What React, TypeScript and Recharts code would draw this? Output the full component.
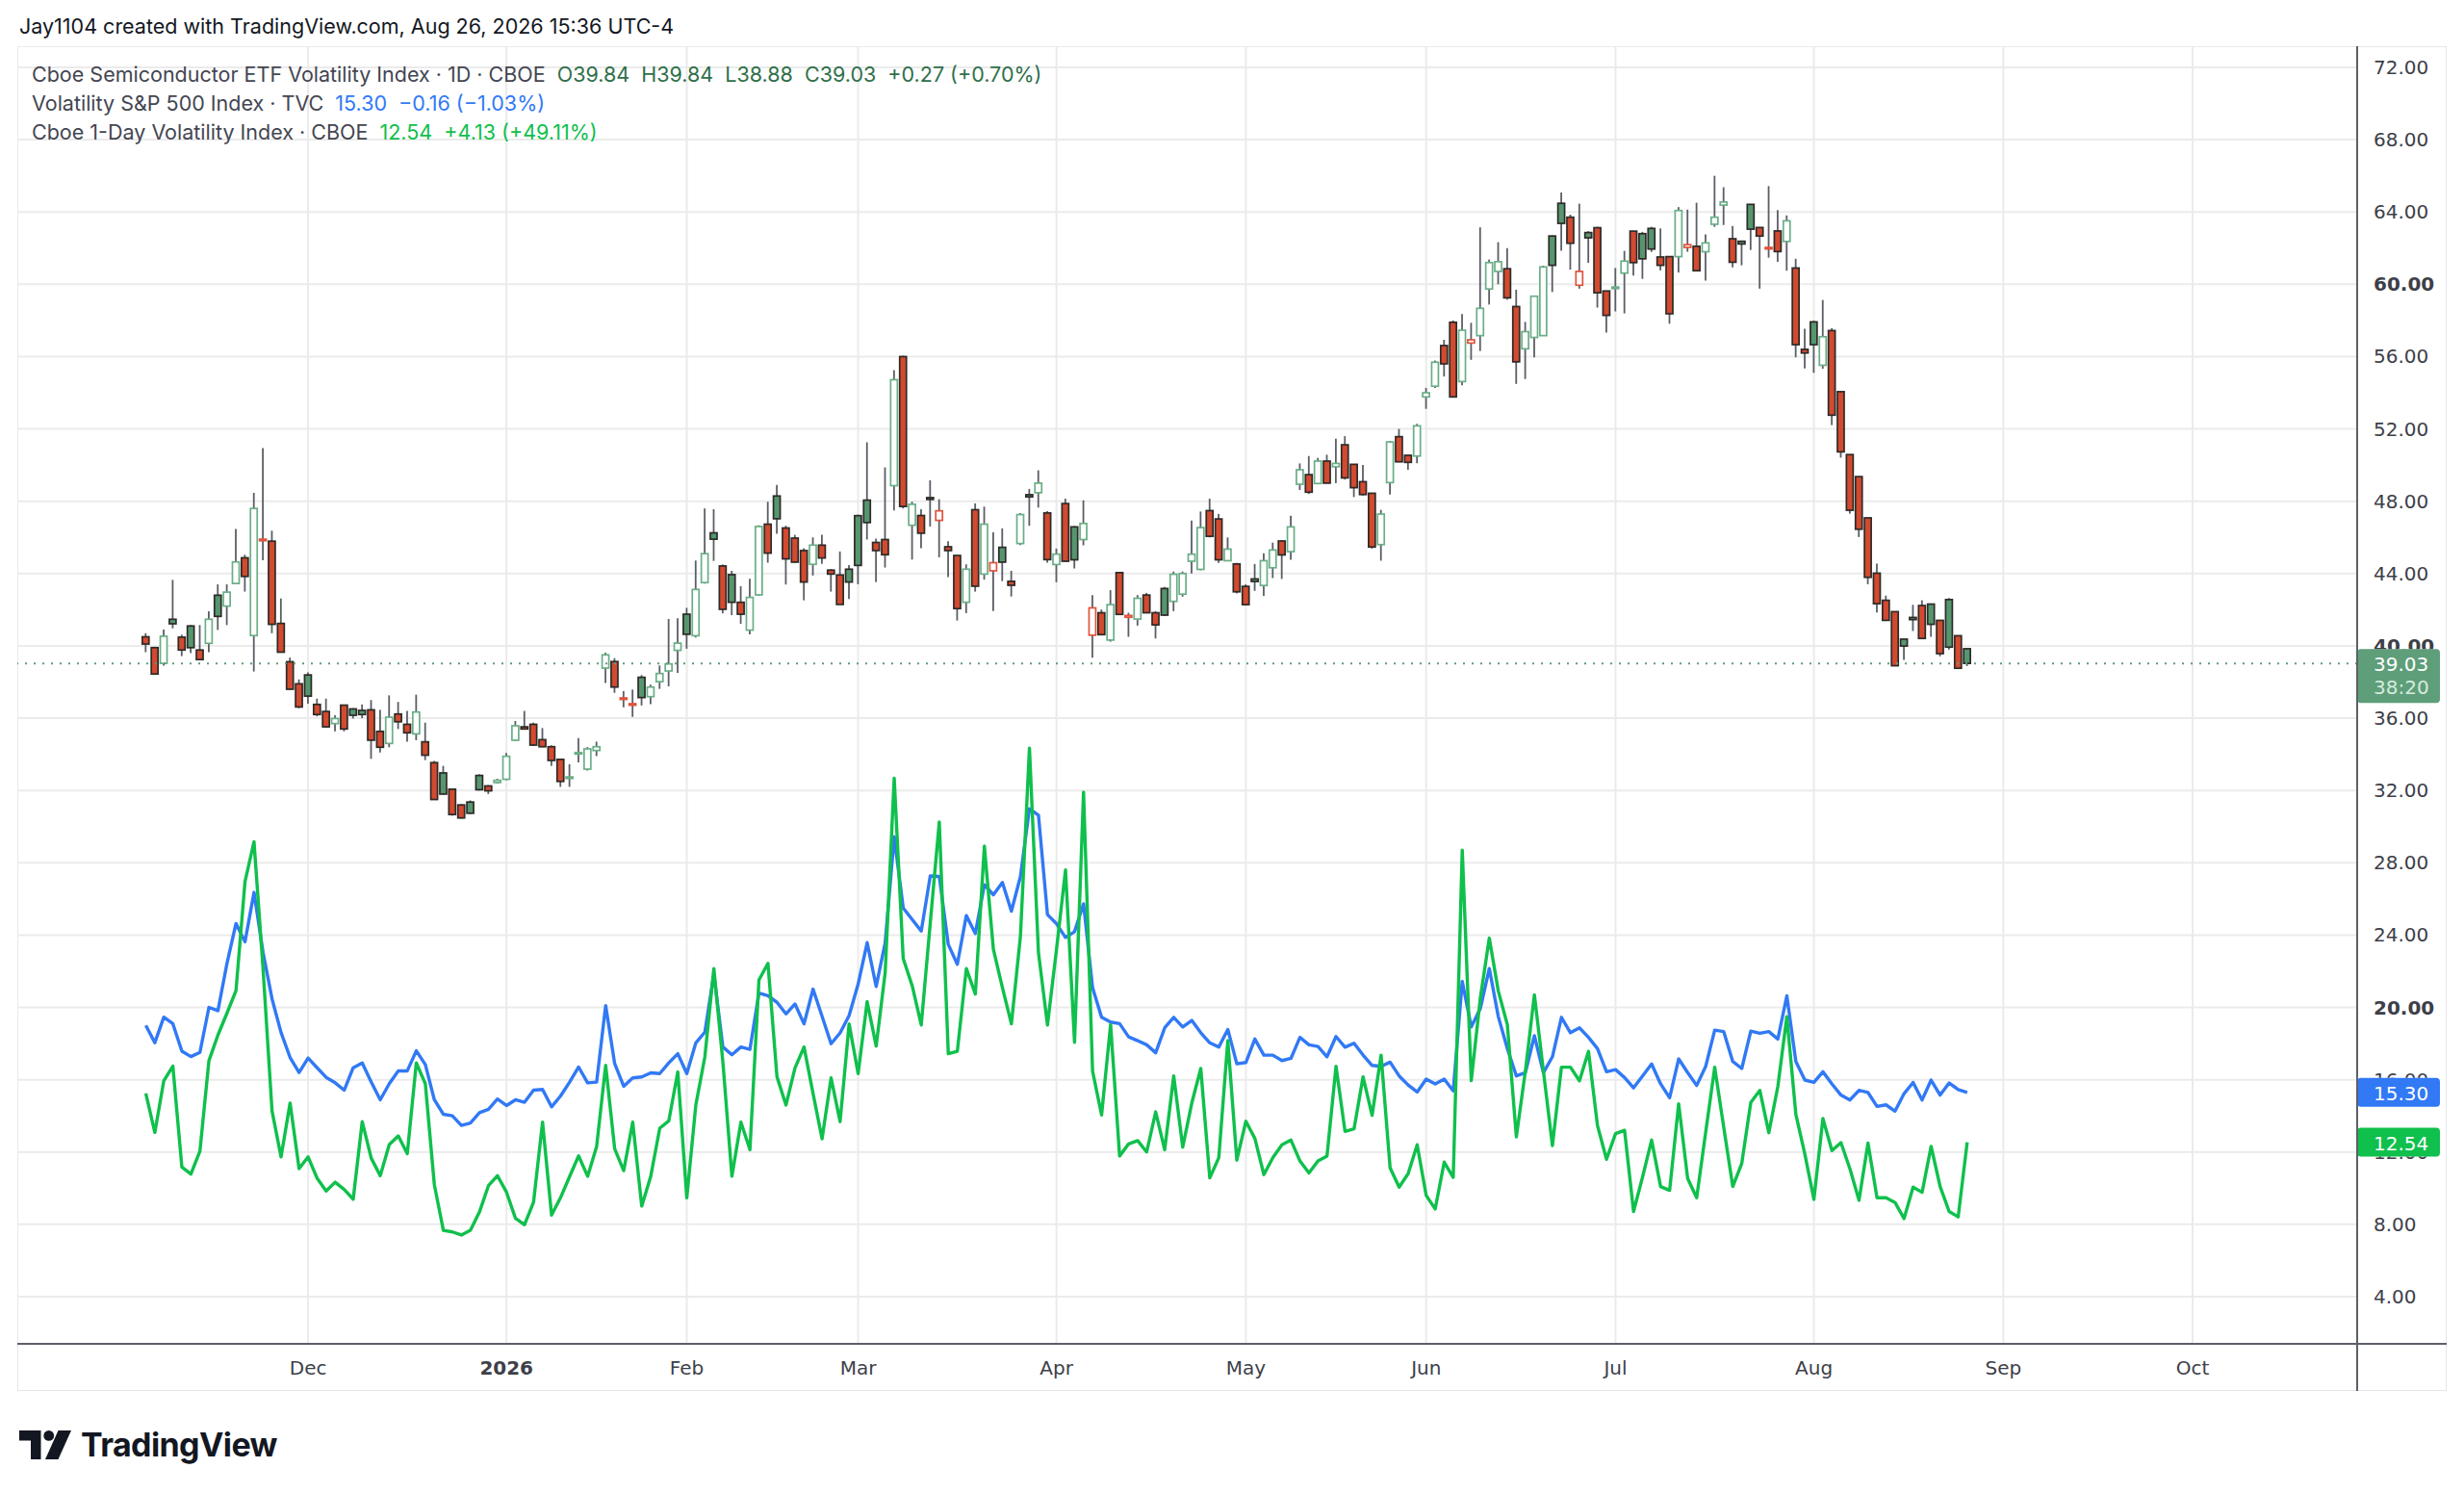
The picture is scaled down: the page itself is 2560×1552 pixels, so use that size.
import { Bar, CartesianGrid, ComposedChart, Line, ReferenceLine, XAxis, YAxis } from "recharts";

// Trading sessions shown on the chart (NYSE calendar), month -> days.
const SESSIONS: [string, number[]][] = [
  ["2025-11", [4, 5, 6, 7, 10, 11, 12, 13, 14, 17, 18, 19, 20, 21, 24, 25, 26, 28]],
  ["2025-12", [1, 2, 3, 4, 5, 8, 9, 10, 11, 12, 15, 16, 17, 18, 19, 22, 23, 24, 26, 29, 30, 31]],
  ["2026-01", [2, 5, 6, 7, 8, 9, 12, 13, 14, 15, 16, 20, 21, 22, 23, 26, 27, 28, 29, 30]],
  ["2026-02", [2, 3, 4, 5, 6, 9, 10, 11, 12, 13, 17, 18, 19, 20, 23, 24, 25, 26, 27]],
  ["2026-03", [2, 3, 4, 5, 6, 9, 10, 11, 12, 13, 16, 17, 18, 19, 20, 23, 24, 25, 26, 27, 30, 31]],
  ["2026-04", [1, 2, 6, 7, 8, 9, 10, 13, 14, 15, 16, 17, 20, 21, 22, 23, 24, 27, 28, 29, 30]],
  ["2026-05", [1, 4, 5, 6, 7, 8, 11, 12, 13, 14, 15, 18, 19, 20, 21, 22, 26, 27, 28, 29]],
  ["2026-06", [1, 2, 3, 4, 5, 8, 9, 10, 11, 12, 15, 16, 17, 18, 22, 23, 24, 25, 26, 29, 30]],
  ["2026-07", [1, 2, 6, 7, 8, 9, 10, 13, 14, 15, 16, 17, 20, 21, 22, 23, 24, 27, 28, 29, 30, 31]],
  ["2026-08", [3, 4, 5, 6, 7, 10, 11, 12, 13, 14, 17, 18, 19, 20, 21, 24, 25, 26]],
];

// Empty sessions to the right of the last bar.
const FUTURE_SESSIONS: [string, number[]][] = [
  ["2026-08", [27, 28, 31]],
  ["2026-09", [1, 2, 3, 4, 8, 9, 10, 11, 14, 15, 16, 17, 18, 21, 22, 23, 24, 25, 28, 29, 30]],
  ["2026-10", [1, 2, 5, 6, 7, 8, 9, 12, 13, 14, 15, 16, 19, 20, 21, 22, 23, 26]],
];

const LEAD_SLOTS = 14; // empty space left of the first bar

const TICK_MONTHS = ["2025-12", "2026-01", "2026-02", "2026-03", "2026-04", "2026-05", "2026-06", "2026-07", "2026-08", "2026-09", "2026-10"];
const TICK_LABELS = ["Dec", "2026", "Feb", "Mar", "Apr", "May", "Jun", "Jul", "Aug", "Sep", "Oct"];
const Y_TICKS = [4, 8, 12, 16, 20, 24, 28, 32, 36, 40, 44, 48, 52, 56, 60, 64, 68, 72];
const Y_BOLD = [20, 40, 60];
const Y_DOMAIN = [1.39, 73.17];

// Cboe Semiconductor ETF Volatility Index (VXSOX), daily
const OPEN = [
  40.5, 39.9, 39.03, 41.47, 40.48, 41.1, 39.77, 40.14, 42.8, 42.2, 43.45, 44.87, 40.57, 45.85, 45.79, 41.24, 39.12, 37.9,
  38.39, 36.76, 36.37, 35.7, 36.72, 36.51, 36.43, 36.46, 35.27, 34.6, 36.23, 35.66, 35.13, 34.69, 33.54, 32.97, 32.07, 31.2, 31.36, 32.83, 32.25, 32.44,
  32.62, 34.78, 35.52, 35.66, 34.81, 34.42, 33.72, 32.7, 34.05, 33.18, 34.21, 38.77, 39.13, 37.08, 36.77, 38.26, 37.19, 38.02, 38.61, 39.75,
  41.75, 40.56, 43.5, 46.25, 44.42, 43.94, 42.41, 40.87, 42.82, 46.73, 48.29, 46.52, 45.96, 45.27, 44.51, 45.57, 44.19, 43.92, 44.24,
  47.2, 48.06, 45.72, 45.88, 48.86, 56.0, 46.67, 47.21, 48.2, 46.94, 45.48, 45.0, 42.41, 47.53, 43.97, 44.15, 45.45, 43.57, 45.66, 48.36, 48.47, 47.35,
  44.5, 47.87, 46.58, 45.88, 40.59, 41.83, 40.32, 44.05, 41.58, 41.48, 42.81, 41.83, 43.17, 42.46, 42.86, 44.68, 44.23, 47.48, 47.02, 44.71, 44.53,
  43.29, 43.7, 43.34, 44.32, 45.8, 45.21, 48.94, 49.47, 48.98, 50.22, 49.91, 51.12, 50.04, 49.08, 48.44, 45.6, 49.03, 51.57, 50.54, 50.5,
  53.77, 54.36, 56.61, 57.9, 54.62, 56.75, 57.16, 59.74, 60.71, 60.86, 58.77, 56.43, 57.06, 57.16, 62.67, 64.48, 63.71, 59.95, 62.86, 63.13, 59.63,
  59.8, 60.62, 62.94, 62.8, 63.09, 61.51, 61.53, 61.53, 62.04, 62.1, 61.8, 63.32, 64.38, 62.52, 62.38, 64.42, 63.14, 62.02, 62.95, 62.37, 60.9, 56.4,
  57.92, 55.52, 57.44, 54.06, 50.58, 49.36, 47.08, 44.02, 42.52, 41.89, 40.37, 41.57, 42.23, 42.31, 41.41, 42.56, 40.56, 39.84,
];
const HIGH = [
  40.7, 39.95, 40.9, 43.65, 40.62, 41.15, 41.15, 41.91, 43.4, 43.4, 46.46, 45.04, 48.46, 50.94, 46.37, 42.62, 39.35, 38.14,
  38.53, 37.08, 37.08, 36.16, 36.73, 36.55, 36.76, 37.0, 36.46, 37.26, 36.9, 36.4, 37.3, 35.75, 33.63, 33.36, 32.1, 31.24, 31.45, 32.9, 32.3, 32.65,
  34.07, 35.84, 36.4, 35.75, 35.45, 34.5, 33.75, 33.45, 34.9, 34.4, 34.7, 39.62, 39.32, 37.5, 37.58, 38.38, 37.85, 38.91, 41.49, 41.52,
  42.1, 44.72, 47.6, 47.56, 44.5, 44.15, 43.3, 43.71, 46.67, 47.97, 48.9, 46.64, 46.14, 45.4, 46.0, 46.14, 44.24, 45.22, 44.47,
  47.26, 51.26, 45.93, 49.87, 55.25, 56.05, 47.97, 47.56, 49.16, 48.11, 45.79, 45.0, 44.51, 47.88, 47.7, 46.28, 46.5, 44.15, 47.35, 48.68, 49.71, 47.45,
  45.38, 48.14, 46.63, 48.05, 42.81, 42.01, 43.08, 44.05, 41.83, 42.81, 42.93, 41.92, 43.26, 44.11, 44.11, 46.93, 47.43, 48.14, 47.3, 46.0, 44.59,
  43.4, 44.53, 45.12, 45.71, 45.83, 47.2, 50.09, 50.5, 50.4, 50.57, 51.46, 51.6, 50.04, 50.0, 48.44, 47.52, 51.34, 52.0, 50.54, 52.28,
  54.27, 55.78, 56.93, 58.0, 58.35, 57.87, 63.15, 61.37, 62.33, 62.0, 59.7, 57.92, 59.34, 61.03, 62.71, 65.08, 63.85, 64.46, 62.94, 63.18, 59.63,
  60.9, 61.85, 62.94, 62.9, 63.18, 63.09, 61.53, 64.27, 64.13, 64.51, 62.76, 66.0, 65.37, 63.22, 62.42, 64.42, 63.14, 65.43, 64.1, 63.81, 61.41, 57.54,
  57.99, 59.13, 57.57, 54.06, 50.58, 49.36, 47.08, 44.55, 42.78, 41.89, 40.37, 42.27, 42.52, 42.31, 41.41, 42.65, 40.56, 39.84,
];
const LOW = [
  39.65, 38.4, 38.9, 40.97, 39.43, 39.6, 39.2, 39.65, 40.88, 41.15, 43.45, 43.0, 38.58, 44.74, 40.7, 39.65, 37.56, 36.55,
  36.8, 36.1, 35.49, 35.27, 35.27, 35.98, 36.0, 33.75, 34.1, 34.39, 35.4, 34.7, 34.78, 33.68, 31.5, 31.77, 30.6, 30.44, 30.7, 32.0, 31.8, 32.39,
  32.57, 34.74, 35.38, 34.46, 34.39, 33.36, 32.2, 32.2, 33.55, 33.1, 33.9, 37.94, 37.4, 36.6, 36.07, 36.7, 36.78, 37.62, 37.76, 38.5,
  39.84, 40.46, 43.44, 44.7, 41.8, 41.7, 41.22, 40.64, 42.77, 44.6, 46.2, 43.39, 44.6, 42.52, 43.89, 44.54, 43.0, 42.29, 42.59,
  43.41, 45.88, 43.53, 44.33, 47.49, 47.6, 44.77, 45.4, 46.6, 44.9, 43.8, 41.4, 41.81, 43.0, 43.66, 41.93, 43.58, 42.73, 45.57, 46.64, 47.65, 44.6,
  43.52, 44.66, 44.28, 45.56, 39.35, 40.59, 40.23, 41.74, 40.5, 41.12, 41.83, 40.41, 41.65, 41.92, 42.72, 44.0, 44.18, 46.0, 44.59, 44.68, 42.9,
  42.23, 43.04, 42.76, 43.75, 43.7, 44.76, 48.62, 48.4, 48.98, 49.0, 49.0, 49.2, 48.23, 48.32, 45.38, 44.71, 48.37, 50.18, 49.74, 50.1,
  53.11, 54.27, 54.9, 53.73, 54.41, 55.82, 56.31, 58.88, 60.0, 59.15, 54.49, 54.76, 55.96, 57.16, 59.57, 61.85, 60.81, 59.76, 61.19, 58.71, 57.33,
  58.5, 58.39, 60.48, 60.3, 61.79, 60.77, 57.82, 60.65, 61.8, 60.75, 60.2, 63.18, 63.28, 60.94, 61.05, 61.9, 59.76, 61.47, 61.24, 60.75, 55.96, 55.35,
  55.1, 55.33, 52.21, 50.41, 47.31, 46.02, 43.41, 41.85, 41.38, 38.9, 39.23, 40.82, 40.41, 40.5, 39.42, 39.8, 38.75, 38.88,
];
const CLOSE = [
  40.1, 38.44, 40.53, 41.22, 39.77, 39.9, 39.24, 41.47, 41.63, 42.97, 44.64, 43.84, 47.6, 45.9, 41.19, 39.65, 37.6, 36.62,
  37.22, 36.2, 35.52, 35.98, 35.4, 36.16, 36.2, 34.78, 34.39, 36.05, 35.8, 35.19, 36.34, 33.95, 31.5, 31.8, 30.67, 30.48, 30.74, 32.04, 31.98, 32.56,
  33.89, 35.58, 35.4, 34.51, 34.42, 33.66, 32.5, 32.75, 34.1, 34.3, 34.42, 39.5, 37.72, 37.12, 36.8, 37.14, 37.72, 38.47, 39.0, 40.15,
  40.64, 43.12, 45.1, 45.9, 42.02, 42.41, 41.75, 42.68, 46.6, 45.13, 47.03, 44.81, 44.63, 43.53, 45.57, 44.86, 43.97, 42.29, 43.53,
  44.45, 46.82, 45.27, 45.04, 54.72, 47.71, 47.83, 46.23, 48.1, 47.47, 45.27, 42.06, 44.24, 43.3, 46.73, 44.6, 44.63, 43.35, 47.26, 48.24, 49.0, 44.77,
  45.07, 44.68, 44.76, 46.77, 42.1, 40.62, 42.28, 41.74, 41.68, 42.63, 41.83, 41.16, 41.7, 43.96, 44.0, 45.07, 46.54, 46.06, 44.76, 45.35, 42.99,
  42.28, 43.56, 44.71, 45.3, 45.03, 46.58, 49.74, 48.5, 50.22, 49.0, 50.09, 49.29, 48.75, 48.37, 45.47, 47.29, 51.28, 50.18, 50.15, 52.17,
  54.0, 55.69, 55.6, 53.77, 57.46, 56.93, 58.67, 61.2, 61.25, 59.25, 55.71, 57.38, 59.34, 60.96, 61.05, 63.37, 62.27, 60.71, 62.57, 59.53, 58.28,
  59.85, 61.28, 61.2, 61.41, 61.95, 61.05, 58.37, 64.08, 62.19, 60.75, 62.29, 63.71, 64.55, 61.22, 62.23, 63.05, 62.67, 62.04, 61.81, 63.51, 56.66, 56.2,
  56.66, 57.1, 52.76, 50.73, 47.5, 46.45, 43.79, 42.33, 41.41, 38.9, 39.99, 41.45, 40.41, 41.19, 39.57, 39.93, 38.76, 39.03,
];

// Volatility S&P 500 Index (VIX), daily close
const VIX = [
  19.0, 18.05, 19.46, 19.1, 17.58, 17.28, 17.51, 20.0, 19.82, 22.43, 24.64, 23.63, 26.36, 23.05, 20.47, 18.61, 17.23, 16.4,
  17.2, 16.66, 16.13, 15.83, 15.42, 16.66, 16.93, 15.87, 14.89, 15.78, 16.49, 16.49, 17.6, 16.84, 14.89, 14.09, 14.0, 13.47, 13.61, 14.18, 14.36, 14.93,
  14.57, 14.89, 14.75, 15.42, 15.46, 14.5, 15.1, 15.87, 16.7, 15.83, 15.87, 20.1, 16.89, 15.64, 16.1, 16.15, 16.38, 16.34, 16.93, 17.44,
  16.34, 18.04, 18.63, 21.84, 17.81, 17.38, 17.81, 17.68, 20.79, 20.64, 20.28, 19.64, 20.19, 19.09, 21.01, 19.51, 17.99, 18.59, 19.55,
  21.29, 23.58, 21.16, 23.58, 29.44, 25.5, 24.86, 24.22, 27.27, 27.24, 23.48, 22.38, 25.08, 24.09, 26.78, 26.23, 26.91, 25.32, 27.24, 30.99, 30.63, 25.13,
  24.63, 23.87, 24.19, 25.73, 21.09, 19.45, 19.19, 19.1, 18.37, 18.16, 17.93, 17.49, 18.87, 19.45, 18.92, 19.28, 18.6, 18.04, 17.8, 18.78, 16.88,
  16.95, 18.25, 17.36, 17.36, 17.06, 17.18, 18.34, 17.93, 17.84, 17.27, 18.39, 17.8, 18.02, 17.36, 16.79, 16.74, 16.97, 16.21, 15.71, 15.32,
  16.03, 15.77, 16.03, 15.38, 21.44, 18.92, 19.93, 22.15, 19.49, 17.72, 16.21, 16.39, 18.43, 16.39, 17.27, 19.45, 18.6, 18.87, 18.34, 17.72, 16.44,
  16.56, 16.12, 15.55, 16.21, 16.87, 15.77, 15.0, 17.15, 16.39, 15.68, 16.74, 18.74, 18.66, 17.01, 16.62, 18.69, 18.57, 18.66, 18.25, 20.64, 17.01, 15.98,
  15.85, 16.44, 15.77, 15.15, 14.88, 15.41, 15.29, 14.52, 14.61, 14.26, 15.23, 15.85, 14.88, 15.98, 15.15, 15.82, 15.46, 15.3,
];

// Cboe 1-Day Volatility Index (VIX1D), daily close
const VIX1D = [
  15.24, 13.08, 15.95, 16.75, 11.17, 10.78, 12.05, 17.05, 18.47, 19.68, 20.92, 26.95, 29.16, 22.16, 14.27, 11.73, 14.71, 11.08,
  11.73, 10.55, 9.84, 10.33, 9.93, 9.39, 13.68, 11.66, 10.69, 12.41, 12.89, 11.91, 16.93, 15.78, 10.19, 7.67, 7.58, 7.41, 7.67, 8.68, 10.14, 10.69,
  9.78, 8.33, 7.98, 9.22, 13.65, 8.51, 9.48, 10.64, 11.79, 10.66, 12.31, 16.8, 12.18, 10.97, 13.65, 9.01, 10.66, 13.32, 13.72, 16.43,
  9.47, 14.6, 17.26, 22.15, 16.98, 10.66, 13.65, 12.13, 21.52, 22.44, 16.16, 14.6, 16.65, 17.81, 15.24, 12.73, 16.1, 13.68, 19.09,
  16.34, 20.32, 17.86, 21.93, 32.68, 22.7, 21.19, 19.03, 24.67, 30.26, 17.44, 17.57, 22.15, 20.74, 28.92, 23.21, 21.1, 19.09, 23.94, 34.34, 23.03, 19.03,
  23.2, 27.61, 18.07, 31.9, 16.48, 14.05, 19.05, 11.78, 12.45, 12.63, 12.0, 14.22, 12.13, 16.21, 12.27, 14.7, 16.62, 10.57, 11.69, 18.16, 11.55,
  13.7, 12.75, 10.75, 11.69, 12.4, 12.66, 11.51, 10.84, 11.51, 11.78, 16.74, 13.14, 13.28, 16.16, 14.03, 17.36, 11.12, 10.06, 10.8, 12.4,
  9.6, 8.85, 11.44, 10.6, 28.7, 15.95, 20.5, 23.83, 20.9, 19.05, 12.84, 16.48, 20.7, 16.48, 12.36, 16.69, 16.69, 15.94, 17.57, 13.46, 11.6,
  13.02, 13.2, 8.71, 10.62, 12.66, 10.09, 9.88, 14.67, 10.54, 9.47, 13.11, 16.69, 13.37, 10.09, 11.37, 14.74, 15.41, 13.07, 15.62, 19.49, 14.08, 11.87,
  9.38, 13.85, 12.08, 12.52, 11.07, 9.33, 12.49, 9.47, 9.47, 9.21, 8.32, 10.06, 9.77, 12.31, 10.09, 8.71, 8.41, 12.54,
];

const LAST_CLOSE = 39.03;
const LAST_VIX = 15.3;
const LAST_VIX1D = 12.54;
const COUNTDOWN = "38:20";

const UP = "#6aae87";
const UP_FILL = "#55966f";
const DOWN = "#e0533b";
const DOWN_FILL = "#d24a2f";
const DARK_EDGE = "#2e2a28";
const WICK = "#5b5e66";
const BLUE = "#3179f5";
const GREEN = "#0fc04c";
const PRICE_BADGE = "#5e9e79";
const AXIS_FONT = "'DejaVu Sans', sans-serif";
const UI_FONT = "Inter, Roboto, 'Noto Sans', sans-serif";

const CHART_W = 2524;
const CHART_H = 1397;
const X_AXIS_H = 49;
const Y_AXIS_W = 93;
const PX_PER_UNIT = (CHART_H - X_AXIS_H) / (Y_DOMAIN[1] - Y_DOMAIN[0]);

// value badges on the price scale: extent in px around their value
const BADGES = [
  { value: LAST_CLOSE, above: 15, below: 41 },
  { value: LAST_VIX, above: 15, below: 15 },
  { value: LAST_VIX1D, above: 15, below: 15 },
];

const pad = (n: number) => String(n).padStart(2, "0");
const expand = (list: [string, number[]][]) => list.flatMap(([m, days]) => days.map((d) => `${m}-${pad(d)}`));

const TRADE_DATES = expand(SESSIONS);
const ALL_DATES = [...TRADE_DATES, ...expand(FUTURE_SESSIONS)];
const SLOT_COUNT = LEAD_SLOTS + ALL_DATES.length;

const rows = TRADE_DATES.map((date, i) => ({
  date,
  idx: LEAD_SLOTS + i,
  open: OPEN[i],
  high: HIGH[i],
  low: LOW[i],
  close: CLOSE[i],
  prev: i > 0 ? CLOSE[i - 1] : undefined,
  range: [LOW[i], HIGH[i]],
  vix: VIX[i],
  vix1d: VIX1D[i],
}));

const tickIdx = TICK_MONTHS.map((m) => LEAD_SLOTS + ALL_DATES.findIndex((d) => d.startsWith(m)));
const tickLabel = new Map(tickIdx.map((t, i) => [t, TICK_LABELS[i]]));

function Candle(props: any) {
  const { x, y, width, height, payload } = props;
  if (!payload || payload.open == null) return null;
  const { open, high, low, close, prev } = payload;
  const top = Math.min(y, y + height);
  const h = Math.abs(height);
  const ppu = high > low ? h / (high - low) : 0;
  const yOf = (v: number) => top + (high - v) * ppu;
  const hollow = close >= open;
  const rising = prev === undefined ? hollow : close >= prev;
  const cx = x + width / 2;
  const bodyTop = yOf(Math.max(open, close));
  const bodyH = Math.max(yOf(Math.min(open, close)) - bodyTop, 1.6);
  const edge = hollow ? (rising ? UP : DOWN) : DARK_EDGE;
  const fill = hollow ? "#ffffff" : rising ? UP_FILL : DOWN_FILL;
  return (
    <g>
      <line x1={cx} x2={cx} y1={top} y2={top + h} stroke={WICK} strokeWidth={1.8} />
      <rect x={x} y={bodyTop} width={width} height={bodyH} fill={fill} stroke={edge} strokeWidth={1.7} />
    </g>
  );
}

// Price-scale label; the part hidden under a value badge is clipped away.
function PriceTick(props: any) {
  const { x, y, payload } = props;
  const v = payload.value as number;
  let clipTop = y - 20;
  let clipBottom = y + 20;
  for (const b of BADGES) {
    const c = y + (v - b.value) * PX_PER_UNIT;
    const top = c - b.above;
    const bottom = c + b.below;
    if (bottom > y - 13 && top < y + 13) {
      if (c > y) clipBottom = Math.min(clipBottom, top);
      else clipTop = Math.max(clipTop, bottom);
    }
  }
  const id = `price-tick-${v}`;
  return (
    <g>
      <defs>
        <clipPath id={id}>
          <rect x={x} y={clipTop} width={Y_AXIS_W} height={Math.max(clipBottom - clipTop, 0)} />
        </clipPath>
      </defs>
      <text
        x={x + 17}
        y={y}
        dominantBaseline="central"
        fontFamily={AXIS_FONT}
        fontSize={20}
        fontWeight={Y_BOLD.includes(v) ? 700 : 400}
        fill="#3d4049"
        clipPath={`url(#${id})`}
      >
        {v.toFixed(2)}
      </text>
    </g>
  );
}

function MonthTick(props: any) {
  const { x, y, payload } = props;
  const label = tickLabel.get(payload.value) ?? "";
  return (
    <text
      x={x}
      y={y + 25}
      textAnchor="middle"
      dominantBaseline="central"
      fontFamily={AXIS_FONT}
      fontSize={20}
      fontWeight={label === "2026" ? 700 : 400}
      fill="#3d4049"
    >
      {label}
    </text>
  );
}

function Badge(props: any) {
  const { viewBox, text, sub, color } = props;
  if (!viewBox) return null;
  const left = viewBox.x + viewBox.width;
  const cy = viewBox.y + (viewBox.height || 0) / 2;
  const h = sub ? 56 : 30;
  const top = cy - 15;
  return (
    <g>
      <rect x={left} y={top} width={86} height={h} rx={4} fill={color} />
      <text x={left + 17} y={cy + 1} dominantBaseline="central" fontFamily={AXIS_FONT} fontSize={20} fill="#ffffff">
        {text}
      </text>
      {sub && (
        <text x={left + 17} y={cy + 25} dominantBaseline="central" fontFamily={AXIS_FONT} fontSize={20} fill="#d6ebdf">
          {sub}
        </text>
      )}
    </g>
  );
}

function Logo() {
  return (
    <div style={{ position: "absolute", left: 20, top: 1480, display: "flex", alignItems: "center", gap: 10 }}>
      <svg width={54} height={30} viewBox="0 0 36 20">
        <polygon points="0,0 15,0 15,20 8,20 8,7 0,7" fill="#131722" />
        <circle cx={20.5} cy={3.6} r={3.6} fill="#131722" />
        <polygon points="27,0 36,0 27,20 18,20" fill="#131722" />
      </svg>
      <span style={{ fontFamily: UI_FONT, fontWeight: 700, fontSize: 34, color: "#131722", letterSpacing: -0.6 }}>
        TradingView
      </span>
    </div>
  );
}

export default function App() {
  const legendRow = {
    position: "absolute" as const,
    left: 33,
    fontFamily: UI_FONT,
    fontSize: 21.5,
    lineHeight: "30px",
    whiteSpace: "pre" as const,
  };
  return (
    <div style={{ position: "absolute", left: 0, top: 0, width: 2560, height: 1552, background: "#ffffff", overflow: "hidden" }}>
      <div style={{ position: "absolute", left: 20, top: 14, fontFamily: UI_FONT, fontSize: 21.5, color: "#131722", whiteSpace: "pre" }}>
        Jay1104 created with TradingView.com, Aug 26, 2026 15:36 UTC-4
      </div>

      <div style={{ position: "absolute", left: 18, top: 48, width: CHART_W, height: CHART_H, border: "1px solid #e3e5ea", boxSizing: "border-box" }} />

      <div style={{ position: "absolute", left: 18, top: 48 }}>
        <ComposedChart width={CHART_W} height={CHART_H} data={rows} margin={{ top: 0, right: 0, bottom: 0, left: 0 }}>
          <CartesianGrid stroke="#ebebeb" strokeWidth={2} />
          <XAxis
            type="number"
            dataKey="idx"
            domain={[-0.25, SLOT_COUNT + 0.25]}
            allowDataOverflow
            ticks={tickIdx}
            interval={0}
            tick={<MonthTick />}
            tickSize={0}
            tickMargin={0}
            axisLine={false}
            tickLine={false}
            height={X_AXIS_H}
          />
          <YAxis
            orientation="right"
            type="number"
            domain={Y_DOMAIN}
            allowDataOverflow
            ticks={Y_TICKS}
            interval={0}
            tick={<PriceTick />}
            tickSize={0}
            tickMargin={0}
            axisLine={false}
            tickLine={false}
            width={Y_AXIS_W}
          />
          <Bar dataKey="range" barSize={7} shape={<Candle />} isAnimationActive={false} />
          <Line
            dataKey="vix"
            type="linear"
            stroke={BLUE}
            strokeWidth={3.4}
            strokeLinejoin="round"
            dot={false}
            activeDot={false}
            isAnimationActive={false}
          />
          <Line
            dataKey="vix1d"
            type="linear"
            stroke={GREEN}
            strokeWidth={3.4}
            strokeLinejoin="round"
            dot={false}
            activeDot={false}
            isAnimationActive={false}
          />
          <ReferenceLine
            y={LAST_CLOSE}
            stroke={PRICE_BADGE}
            strokeWidth={2}
            strokeDasharray="2 7"
            zIndex={900}
            label={<Badge text={LAST_CLOSE.toFixed(2)} sub={COUNTDOWN} color={PRICE_BADGE} />}
          />
          <ReferenceLine y={LAST_VIX} stroke="none" zIndex={900} label={<Badge text={LAST_VIX.toFixed(2)} color={BLUE} />} />
          <ReferenceLine y={LAST_VIX1D} stroke="none" zIndex={900} label={<Badge text={LAST_VIX1D.toFixed(2)} color={GREEN} />} />
        </ComposedChart>
      </div>

      {/* pane separators */}
      <div style={{ position: "absolute", left: 2448, top: 48, width: 2, height: CHART_H, background: "#5d6068" }} />
      <div style={{ position: "absolute", left: 18, top: 1395, width: CHART_W, height: 2, background: "#5d6068" }} />

      <div style={{ ...legendRow, top: 62, color: "#434651" }}>
        {"Cboe Semiconductor ETF Volatility Index · 1D · CBOE  "}
        <span style={{ color: "#2f6f4a" }}>{"O39.84  H39.84  L38.88  C39.03  +0.27 (+0.70%)"}</span>
      </div>
      <div style={{ ...legendRow, top: 92, color: "#434651" }}>
        {"Volatility S&P 500 Index · TVC  "}
        <span style={{ color: BLUE }}>{"15.30  −0.16 (−1.03%)"}</span>
      </div>
      <div style={{ ...legendRow, top: 122, color: "#434651" }}>
        {"Cboe 1-Day Volatility Index · CBOE  "}
        <span style={{ color: GREEN }}>{"12.54  +4.13 (+49.11%)"}</span>
      </div>

      <Logo />
    </div>
  );
}
